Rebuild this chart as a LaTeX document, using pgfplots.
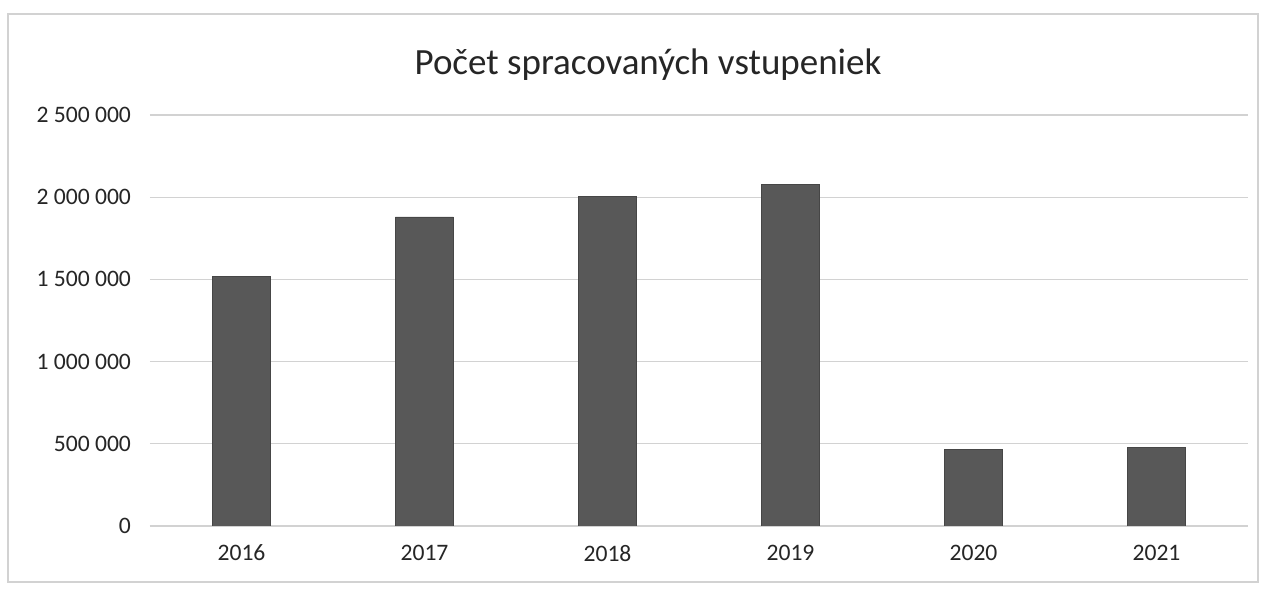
\documentclass[border=0pt]{standalone}
\usepackage{pgfplots}
\pgfplotsset{compat=1.18}
\usepackage{fontspec}
\setmainfont{Carlito}
\definecolor{barc}{RGB}{88,88,88}
\definecolor{gridc}{RGB}{210,210,210}
\begin{document}
\begin{tikzpicture}
\fill[white] (0,0) rectangle (633pt,294.5pt);
\draw[gridc, line width=0.6pt] (4pt,3.5pt) rectangle (629pt,287.5pt);
\node[font=\fontsize{18.5}{21}\selectfont, text=black!85] at (324pt,262pt) {Počet spracovaných vstupeniek};
\begin{axis}[
  at={(75pt,31.5pt)}, anchor=south west,
  scale only axis, width=549pt, height=205.5pt,
  xmin=-0.5, xmax=5.5, ymin=0, ymax=2500000,
  xtick={0,1,2,3,4,5},
  xticklabels={2016,2017,2018,2019,2020,2021},
  ytick={0,500000,1000000,1500000,2000000,2500000},
  yticklabels={0,500 000,1 000 000,1 500 000,2 000 000,2 500 000},
  scaled y ticks=false,
  axis line style={draw=none},
  axis x line*=bottom,
  x axis line style={draw=gridc, line width=0.8pt},
  major tick length=0pt,
  ymajorgrids, grid style={gridc, line width=0.6pt},
  ticklabel style={font=\fontsize{11.8}{13}\selectfont, text=black!85},
  yticklabel style={xshift=-6pt},
  xticklabel style={yshift=-6pt},
  ybar, bar width=29pt,
]
\addplot[fill=barc, draw=barc!80!black] coordinates {
(0,1520000) (1,1880000) (2,2007000) (3,2080000) (4,468000) (5,480000)};
\end{axis}
\end{tikzpicture}
\end{document}
